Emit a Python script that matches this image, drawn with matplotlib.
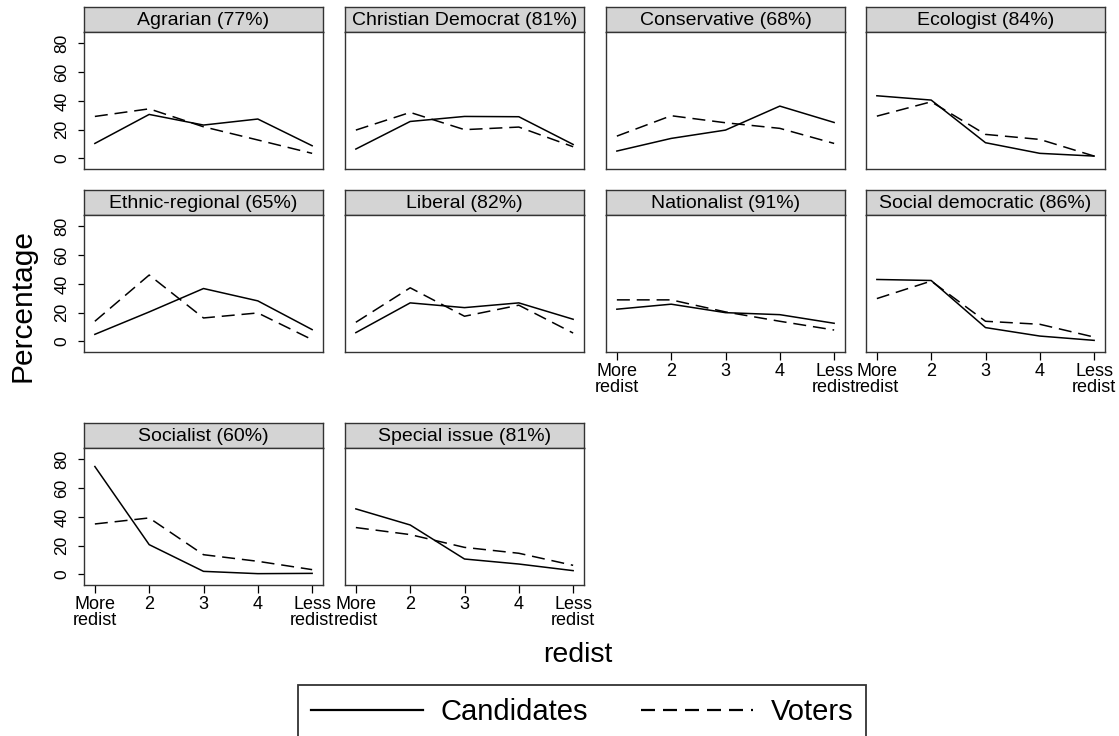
import numpy as np
import matplotlib
matplotlib.use('Agg')
import matplotlib.pyplot as plt
from matplotlib.lines import Line2D

plt.rcParams['font.family'] = ['Liberation Sans', 'DejaVu Sans']

# party families and share of candidates/voters shown in the strip label
families = ['Agrarian', 'Christian Democrat', 'Conservative', 'Ecologist',
            'Ethnic-regional', 'Liberal', 'Nationalist', 'Social democratic',
            'Socialist', 'Special issue']
shares = [77, 81, 68, 84, 65, 82, 91, 86, 60, 81]

redist_pos = [1, 2, 3, 4, 5]
redist_labels = ['More\nredist', '2', '3', '4', 'Less\nredist']

# percentage at each redistribution position
candidates = [
    [10.4, 30.6, 23.2, 27.4, 8.8],
    [6.5, 25.7, 29.2, 29.0, 9.7],
    [5.1, 13.9, 19.7, 36.4, 25.0],
    [43.6, 40.6, 10.9, 3.5, 1.6],
    [4.9, 20.5, 36.8, 28.2, 8.2],
    [6.1, 26.8, 23.5, 26.8, 15.4],
    [22.4, 25.9, 20.0, 18.6, 12.6],
    [43.1, 42.4, 9.6, 3.7, 0.7],
    [75.1, 20.7, 2.1, 0.5, 0.7],
    [45.6, 34.4, 10.7, 7.2, 2.6],
]
voters = [
    [29.2, 34.5, 22.0, 12.8, 3.5],
    [19.7, 32.0, 20.0, 21.8, 8.1],
    [15.5, 29.7, 24.8, 20.9, 10.4],
    [29.4, 39.4, 16.7, 13.2, 1.6],
    [14.0, 46.2, 16.3, 19.8, 1.2],
    [13.3, 37.3, 17.5, 25.2, 5.8],
    [28.9, 28.9, 20.5, 14.0, 7.9],
    [29.8, 42.0, 14.0, 11.9, 3.0],
    [35.1, 39.3, 13.7, 9.1, 3.3],
    [32.6, 27.7, 18.8, 14.7, 6.3],
]

W, H = 1119, 736
fig = plt.figure(figsize=(W / 100, H / 100), dpi=100)


def px_axes(left, top, width, height):
    return fig.add_axes([left / W, 1 - (top + height) / H, width / W, height / H])


col_left = [84, 345, 606, 866]
row_top = [7, 190, 423]
panel_w, strip_h, plot_h = 239, 25, 137
edge = '#333333'
dash = (0, (8.5, 4.5))

for i, (name, share) in enumerate(zip(families, shares)):
    r, c = divmod(i, 4)
    left, top = col_left[c], row_top[r]

    strip = px_axes(left, top, panel_w, strip_h)
    strip.set_facecolor('#d4d4d4')
    strip.set_xticks([])
    strip.set_yticks([])
    for s in strip.spines.values():
        s.set_color(edge)
        s.set_linewidth(1.0)
    strip.text(0.5, 0.47, f'{name} ({share}%)', ha='center', va='center',
               fontsize=14, transform=strip.transAxes)

    ax = px_axes(left, top + strip_h, panel_w, plot_h)
    ax.plot(redist_pos, candidates[i], color='black', lw=1.1)
    ax.plot(redist_pos, voters[i], color='black', lw=1.1, linestyle=dash)
    ax.set_xlim(0.8, 5.2)
    ax.set_ylim(-7.4, 88)
    for s in ax.spines.values():
        s.set_color(edge)
        s.set_linewidth(1.0)

    # y axis only on the first column
    if c == 0:
        ax.set_yticks([0, 20, 40, 60, 80])
        ax.set_yticklabels(['0', '20', '40', '60', '80'], rotation=90,
                           va='center', fontsize=12.5)
        ax.tick_params(axis='y', length=4.5, width=0.9, pad=6)
    else:
        ax.set_yticks([])

    # x axis on the lowest panel of each column
    bottom = (r == 2) or (r == 1 and c >= 2)
    if bottom:
        ax.set_xticks(redist_pos)
        ax.set_xticklabels(redist_labels, fontsize=13, linespacing=0.88)
        ax.tick_params(axis='x', length=5.5, width=0.9, pad=2.5)
    else:
        ax.set_xticks([])

fig.text(23 / W, 1 - 305 / H, 'Percentage', rotation=90, ha='center',
         va='center', fontsize=21.5)
fig.text(578 / W, 1 - 655 / H, 'redist', ha='center', va='center',
         fontsize=20.5)

handles = [Line2D([], [], color='black', lw=1.6),
           Line2D([], [], color='black', lw=1.6, linestyle=(0, (6.3, 3.6)))]
leg = fig.legend(handles, ['Candidates', 'Voters'], ncol=2,
                 loc='upper center', bbox_to_anchor=(582 / W, 1 - 685 / H),
                 fontsize=21, frameon=True, fancybox=False, handlelength=3.85,
                 handletextpad=0.6, columnspacing=1.8, borderpad=0.45,
                 borderaxespad=0)
leg.get_frame().set_edgecolor('black')
leg.get_frame().set_linewidth(1.3)

fig.savefig('out.png', dpi=100)
